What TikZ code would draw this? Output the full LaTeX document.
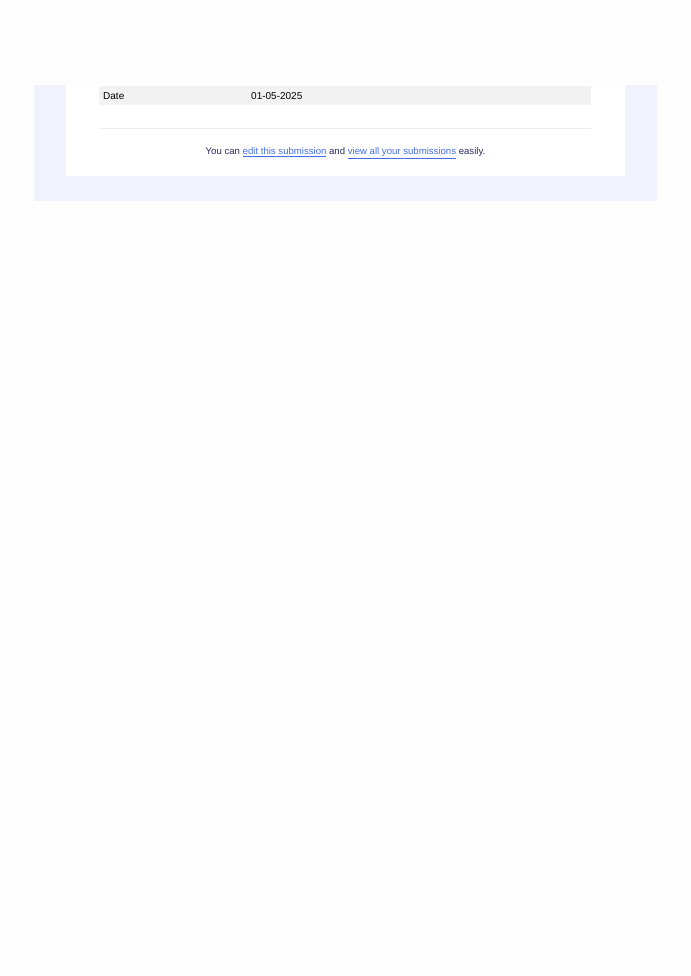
\documentclass[tikz,border=0pt]{standalone}
\usepackage{fontspec}
\setmainfont{Liberation Sans}
\usetikzlibrary{positioning}
\definecolor{pagebg}{RGB}{253,253,253}
\definecolor{lavender}{RGB}{241,242,253}
\definecolor{rowgray}{RGB}{242,242,242}
\definecolor{linkblue}{RGB}{66,110,230}
\definecolor{textnavy}{RGB}{40,45,90}
\definecolor{rulegray}{RGB}{236,238,245}
\newcommand{\linktext}[1]{\textcolor{linkblue}{\underline{#1}}}

\begin{document}
\begin{tikzpicture}[
  x=1pt, y=-1pt,
  cellnode/.style={anchor=west, inner sep=0pt, font=\fontsize{10}{12}\selectfont},
  footnode/.style={inner sep=0pt, font=\fontsize{9.6}{12}\selectfont, text=textnavy}
]
\useasboundingbox[fill=pagebg] (0,0) rectangle (690,976);

%Panels
\fill[lavender] (34,85) rectangle (657,201);
\fill[white] (66,85) rectangle (625,176);
\fill[rowgray] (99,86) rectangle (591,105);
\draw[rulegray] (99,128) -- (591,128);

%Texts
\node[cellnode] (datekey) at (103,96) {Date};
\node[cellnode] (dateval) at (251,96) {01-05-2025};
\node[footnode] (footer) at (345.5,153) {You can \linktext{edit this submission} and \linktext{view all your submissions} easily.};
\end{tikzpicture}
\end{document}
